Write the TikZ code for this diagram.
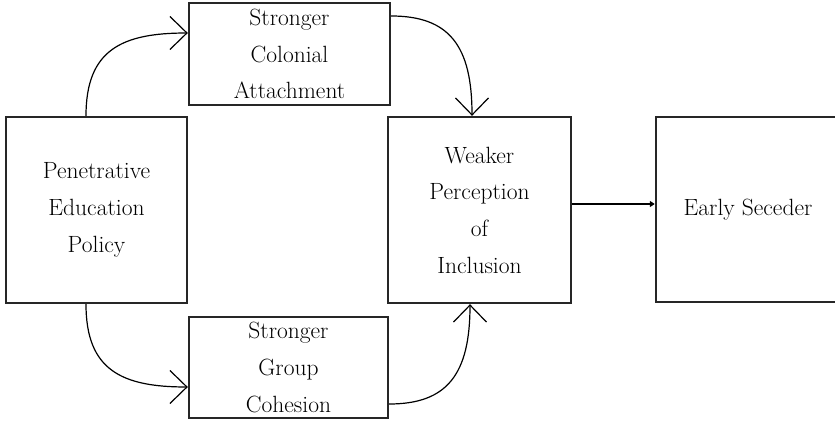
\documentclass[tikz,border=0pt]{standalone}
\usetikzlibrary{arrows.meta}
\begin{document}
\begin{tikzpicture}[x=1pt,y=-1pt,
  box/.style={draw=black!85, line width=2.4pt, rectangle, align=center, inner sep=0pt,
    font=\fontsize{23.5}{36.7}\selectfont},
  flow/.style={line width=1.2pt,
    -{Straight Barb[length=17pt,width=33pt,line width=1.2pt]}},
  main/.style={line width=2pt, -{Triangle[length=5pt,width=6pt]}}]
\useasboundingbox (0,0) rectangle (835,422);
\clip (0,0) rectangle (835,422);
\node[box, minimum width=181pt, minimum height=186pt] (pep) at (96.5,210)
  {Penetrative\\Education\\Policy};
\node[box, minimum width=201pt, minimum height=102pt] (sca) at (289.5,54)
  {Stronger\\Colonial\\Attachment};
\node[box, minimum width=199pt, minimum height=101pt] (sgc) at (288.5,367.5)
  {Stronger\\Group\\Cohesion};
\node[box, minimum width=183pt, minimum height=186pt] (wpi) at (479.5,210)
  {Weaker\\Perception\\of\\Inclusion};
\node[box, minimum width=184pt, minimum height=185pt] (es) at (748,209.5)
  {Early Seceder};
\draw[flow] ([xshift=-10.5pt]pep.north) .. controls +(0,-66) and +(-66,0) .. ([yshift=21pt]sca.west);
\draw[flow] ([yshift=38pt]sca.east) .. controls +(58,0) and +(0,-70) .. ([xshift=-7.5pt]wpi.north);
\draw[flow] ([xshift=-10.5pt]pep.south) .. controls +(0,66) and +(-66,0) .. ([yshift=-19.5pt]sgc.west);
\draw[flow] ([yshift=-36.5pt]sgc.east) .. controls +(58,0) and +(0,70) .. ([xshift=-9.5pt]wpi.south);
\draw[main] ([yshift=6pt]wpi.east) -- ([yshift=6pt]wpi.east -| es.west);
\end{tikzpicture}
\end{document}
